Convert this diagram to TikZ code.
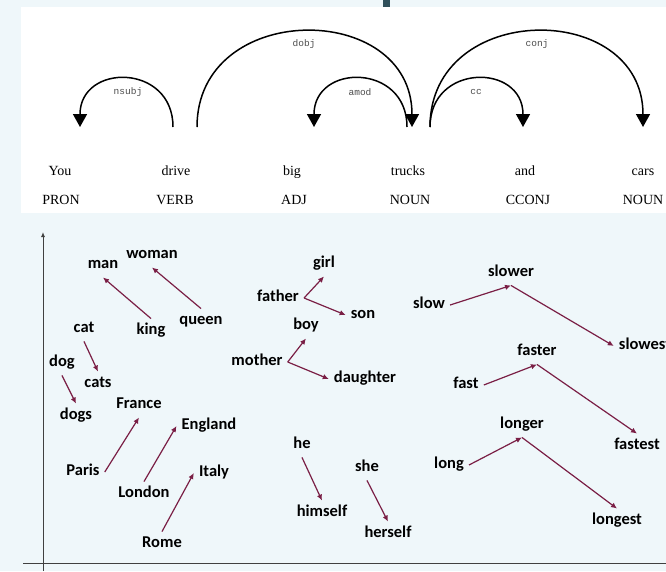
\documentclass[tikz,border=0pt]{standalone}
\usepackage{fontspec}
\usetikzlibrary{arrows.meta}
\newfontfamily\depfont{Liberation Serif}
\newfontfamily\relfont{Liberation Mono}
\newfontfamily\vecfont{Carlito}
\definecolor{slidebg}{HTML}{EFF7FA}
\definecolor{slidebar}{HTML}{2F4F5A}
\definecolor{vecred}{HTML}{7A1F45}
\definecolor{axisgray}{HTML}{404040}

\begin{document}
\begin{tikzpicture}[x=1pt, y=-1pt,
		word/.style={font=\depfont\fontsize{14}{16}\selectfont, anchor=base, inner sep=0pt},
		rel/.style={font=\relfont\fontsize{9.5}{11}\selectfont, text=black!70, inner sep=1pt},
		dep/.style={line width=1.5pt, -{Triangle[length=13pt,width=14pt]}},
		vec/.style={font=\vecfont\bfseries\fontsize{16.5}{19}\selectfont, text height=11pt, text depth=3.5pt, inner sep=5pt},
		vecarrow/.style={draw=vecred, line width=1.2pt, -{Latex[length=6pt,width=5.5pt]}}]
		%%%%% BACKGROUND %%%%%
		\useasboundingbox (0,0) rectangle (666,571);
		\fill[slidebg] (0,0) rectangle (666,571);
		\fill[slidebar] (383,0) rectangle (390,7);
		\fill[white] (21,7) rectangle (666,213);
		
		%%%%% PARSE %%%%%
		\node[word] (You) at (60,175) {You};
		\node[word] (drive) at (176,175) {drive};
		\node[word] (big) at (292,175) {big};
		\node[word] (trucks) at (408,175) {trucks};
		\node[word] (and) at (525,175) {and};
		\node[word] (cars) at (643,175) {cars};
		
		\node[word] (pron) at (61,204) {PRON};
		\node[word] (verb) at (175,204) {VERB};
		\node[word] (adj) at (294,204) {ADJ};
		\node[word] (noun1) at (410,204) {NOUN};
		\node[word] (cconj) at (528,204) {CCONJ};
		\node[word] (noun2) at (643,204) {NOUN};
		
		\coordinate (You-in) at (80,127);
		\coordinate (drive-out) at (173,127);
		\coordinate (drive-out2) at (197,127);
		\coordinate (big-in) at (314,127);
		\coordinate (trucks-out) at (407,127);
		\coordinate (trucks-in) at (412,127);
		\coordinate (trucks-out2) at (430,127);
		\coordinate (and-in) at (523,127);
		\coordinate (cars-in) at (643,127);
		
		\draw[dep] (drive-out) .. controls +(0,-64) and +(0,-64) .. (You-in);
		\draw[dep] (drive-out2) .. controls +(0,-127) and +(0,-127) .. (trucks-in);
		\draw[dep] (trucks-out) .. controls +(0,-64) and +(0,-64) .. (big-in);
		\draw[dep] (trucks-out2) .. controls +(0,-64) and +(0,-64) .. (and-in);
		\draw[dep] (trucks-out2) .. controls +(0,-127) and +(0,-127) .. (cars-in);
		
		\node[rel] (nsubj) at (128,92) {nsubj};
		\node[rel] (dobj) at (304,44) {dobj};
		\node[rel] (amod) at (360,92) {amod};
		\node[rel] (cc) at (476,92) {cc};
		\node[rel] (conj) at (537,44) {conj};
		
		%%%%% AXES %%%%%
		\draw[axisgray, line width=1pt, -{Latex[length=5pt,width=4pt]}] (43,571) -- (43,232);
		\draw[axisgray, line width=1pt] (23,563) -- (666,563);
		
		%%%%% WORDS %%%%%
		\node[vec] (man) at (103,265) {man};
		\node[vec] (woman) at (152,255) {woman};
		\node[vec] (king) at (151,331) {king};
		\node[vec] (queen) at (201,321) {queen};
		\node[vec] (cat) at (84,329) {cat};
		\node[vec] (cats) at (98,384) {cats};
		\node[vec] (dog) at (62,363) {dog};
		\node[vec] (dogs) at (76,416) {dogs};
		\node[vec] (France) at (139,405) {France};
		\node[vec] (Paris) at (83,472) {Paris};
		\node[vec] (England) at (209,426) {England};
		\node[vec] (London) at (144,494) {London};
		\node[vec] (Italy) at (214,473) {Italy};
		\node[vec] (Rome) at (162,544) {Rome};
		
		\node[vec] (girl) at (324,264) {girl};
		\node[vec] (father) at (278,298) {father};
		\node[vec] (son) at (363,315) {son};
		\node[vec] (boy) at (306,326) {boy};
		\node[vec] (mother) at (257,362) {mother};
		\node[vec] (daughter) at (365,379) {daughter};
		\node[vec] (he) at (302,445) {he};
		\node[vec] (himself) at (322,513) {himself};
		\node[vec] (she) at (367,468) {she};
		\node[vec] (herself) at (388,534) {herself};
		
		\node[vec] (slow) at (429,305) {slow};
		\node[vec] (slower) at (511,273) {slower};
		\node[vec] (slowest) at (645,346) {slowest};
		\node[vec] (fast) at (466,385) {fast};
		\node[vec] (faster) at (537,352) {faster};
		\node[vec] (fastest) at (637,446) {fastest};
		\node[vec] (long) at (449,465) {long};
		\node[vec] (longer) at (522,425) {longer};
		\node[vec] (longest) at (617,521) {longest};
		
		%%%%% OFFSETS %%%%%
		\draw[vecarrow] (king.north) -- (man.south);
		\draw[vecarrow] (queen.north) -- (woman.south);
		\draw[vecarrow] (cat.south) -- (cats.north);
		\draw[vecarrow] (dog.south) -- (dogs.north);
		\draw[vecarrow] (Paris.east) -- (France.south);
		\draw[vecarrow] (London.north) -- (England.west);
		\draw[vecarrow] (Rome.north) -- (Italy.west);
		
		\draw[vecarrow] (father.east) -- (girl.south);
		\draw[vecarrow] (father.east) -- (son.west);
		\draw[vecarrow] (mother.east) -- (boy.south);
		\draw[vecarrow] (mother.east) -- (daughter.west);
		\draw[vecarrow] (he.south) -- (himself.north);
		\draw[vecarrow] (she.south) -- (herself.north);
		
		\draw[vecarrow] (slow.east) -- (slower.south);
		\draw[vecarrow] (slower.south) -- (slowest.west);
		\draw[vecarrow] (fast.east) -- (faster.south);
		\draw[vecarrow] (faster.south) -- (fastest.north);
		\draw[vecarrow] (long.east) -- (longer.south);
		\draw[vecarrow] (longer.south) -- (longest.north);
	\end{tikzpicture}
\end{document}
